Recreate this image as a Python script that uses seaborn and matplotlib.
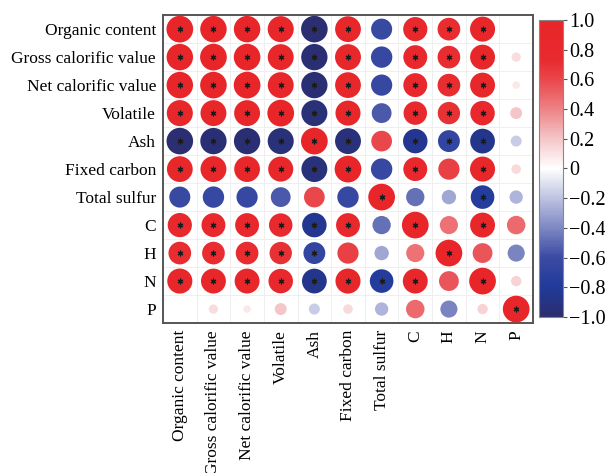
import numpy as np
import pandas as pd
import matplotlib
matplotlib.use("Agg")
import matplotlib.pyplot as plt
from matplotlib.colors import LinearSegmentedColormap, Normalize
import seaborn as sns

variables = ["Organic content", "Gross calorific value", "Net calorific value",
             "Volatile", "Ash", "Fixed carbon", "Total sulfur", "C", "H", "N", "P"]

# Pearson correlation coefficients (lower triangle, row by row)
r_organic = [1.00]
r_gross = [0.98, 1.00]
r_net = [0.98, 0.99, 1.00]
r_volatile = [0.95, 0.94, 0.94, 1.00]
r_ash = [-0.99, -0.97, -0.97, -0.95, 1.00]
r_fixed = [0.93, 0.94, 0.93, 0.88, -0.94, 1.00]
r_sulfur = [-0.62, -0.64, -0.63, -0.55, 0.60, -0.64, 1.00]
r_c = [0.82, 0.80, 0.80, 0.77, -0.84, 0.80, -0.47, 1.00]
r_h = [0.72, 0.72, 0.72, 0.70, -0.67, 0.63, -0.29, 0.46, 1.00]
r_n = [0.88, 0.87, 0.87, 0.84, -0.86, 0.88, -0.78, 0.87, 0.55, 1.00]
r_p = [0.00, 0.12, 0.08, 0.20, -0.17, 0.13, -0.25, 0.48, -0.41, 0.15, 1.00]

# Significance flags (p < 0.05), same layout
s_organic = [1]
s_gross = [1, 1]
s_net = [1, 1, 1]
s_volatile = [1, 1, 1, 1]
s_ash = [1, 1, 1, 1, 1]
s_fixed = [1, 1, 1, 1, 1, 1]
s_sulfur = [0, 0, 0, 0, 0, 0, 1]
s_c = [1, 1, 1, 1, 1, 1, 0, 1]
s_h = [1, 1, 1, 1, 1, 0, 0, 0, 1]
s_n = [1, 1, 1, 1, 1, 1, 1, 1, 0, 1]
s_p = [0, 0, 0, 0, 0, 0, 0, 0, 0, 0, 1]

r_rows = [r_organic, r_gross, r_net, r_volatile, r_ash, r_fixed, r_sulfur, r_c, r_h, r_n, r_p]
s_rows = [s_organic, s_gross, s_net, s_volatile, s_ash, s_fixed, s_sulfur, s_c, s_h, s_n, s_p]

n = len(variables)
R = np.zeros((n, n))
S = np.zeros((n, n), dtype=int)
for i, (rr, ss) in enumerate(zip(r_rows, s_rows)):
    for j, (v, s) in enumerate(zip(rr, ss)):
        R[i, j] = R[j, i] = v
        S[i, j] = S[j, i] = s

rows = []
for i in range(n):
    for j in range(n):
        rows.append({"row": i, "col": j, "r": R[i, j], "absr": abs(R[i, j]), "sig": S[i, j]})
df = pd.DataFrame(rows)

cmap = LinearSegmentedColormap.from_list(
    "navy_white_red",
    [(0.00, "#2B2E6E"), (0.10, "#213A9B"), (0.20, "#3B4BA3"), (0.30, "#7E88C3"),
     (0.40, "#BEC3E1"), (0.50, "#FFFFFF"), (0.60, "#F5C6C8"), (0.70, "#EE8286"),
     (0.80, "#E9474C"), (0.87, "#E8292D"), (1.00, "#E8262A")])
norm = Normalize(-1, 1)

plt.rcParams["font.family"] = ["Liberation Serif", "DejaVu Serif"]
fig = plt.figure(figsize=(6.05, 4.73), dpi=100)
ax = fig.add_axes([0.2694, 0.317, 0.6116, 0.651])

sns.scatterplot(data=df, x="col", y="row", hue="r", palette=cmap, hue_norm=norm,
                size="absr", sizes=(0, 370), size_norm=(0, 1), linewidth=0,
                legend=False, ax=ax, zorder=3)
sig_df = df[df["sig"] == 1]
sns.scatterplot(data=sig_df, x="col", y="row", marker=(6, 2, 0), s=12,
                color="#1a1a1a", linewidth=0.9, legend=False, ax=ax, zorder=4)

ax.set_xlim(-0.5, n - 0.5)
ax.set_ylim(n - 0.5, -0.5)
ax.set_xticks(range(n))
ax.set_yticks(range(n))
ax.set_xticklabels(variables, rotation=90, fontsize=12.5)
ax.set_yticklabels(variables, fontsize=12.5)
ax.set_xlabel("")
ax.set_ylabel("")
ax.tick_params(length=0, pad=5)
ax.set_xticks(np.arange(-0.5, n, 1), minor=True)
ax.set_yticks(np.arange(-0.5, n, 1), minor=True)
ax.tick_params(which="minor", length=0)
ax.grid(which="minor", color="#EDEDED", linewidth=0.6, zorder=0)
ax.grid(which="major", visible=False)
ax.set_axisbelow(True)
for sp in ax.spines.values():
    sp.set_color("#555555")
    sp.set_linewidth(1.4)

cax = fig.add_axes([0.891, 0.330, 0.040, 0.628])
sm = plt.cm.ScalarMappable(cmap=cmap, norm=norm)
cb = fig.colorbar(sm, cax=cax)
ticks = [1.0, 0.8, 0.6, 0.4, 0.2, 0, -0.2, -0.4, -0.6, -0.8, -1.0]
tick_labels = ["1.0", "0.8", "0.6", "0.4", "0.2", "0", "\u22120.2", "\u22120.4", "\u22120.6", "\u22120.8", "\u22121.0"]
cb.set_ticks(ticks)
cb.set_ticklabels(tick_labels)
cb.ax.tick_params(labelsize=14.5, length=3, width=0.8, color="#555555", pad=1)
cb.outline.set_edgecolor("#888888")
cb.outline.set_linewidth(0.8)

fig.savefig("out.png", dpi=100)
